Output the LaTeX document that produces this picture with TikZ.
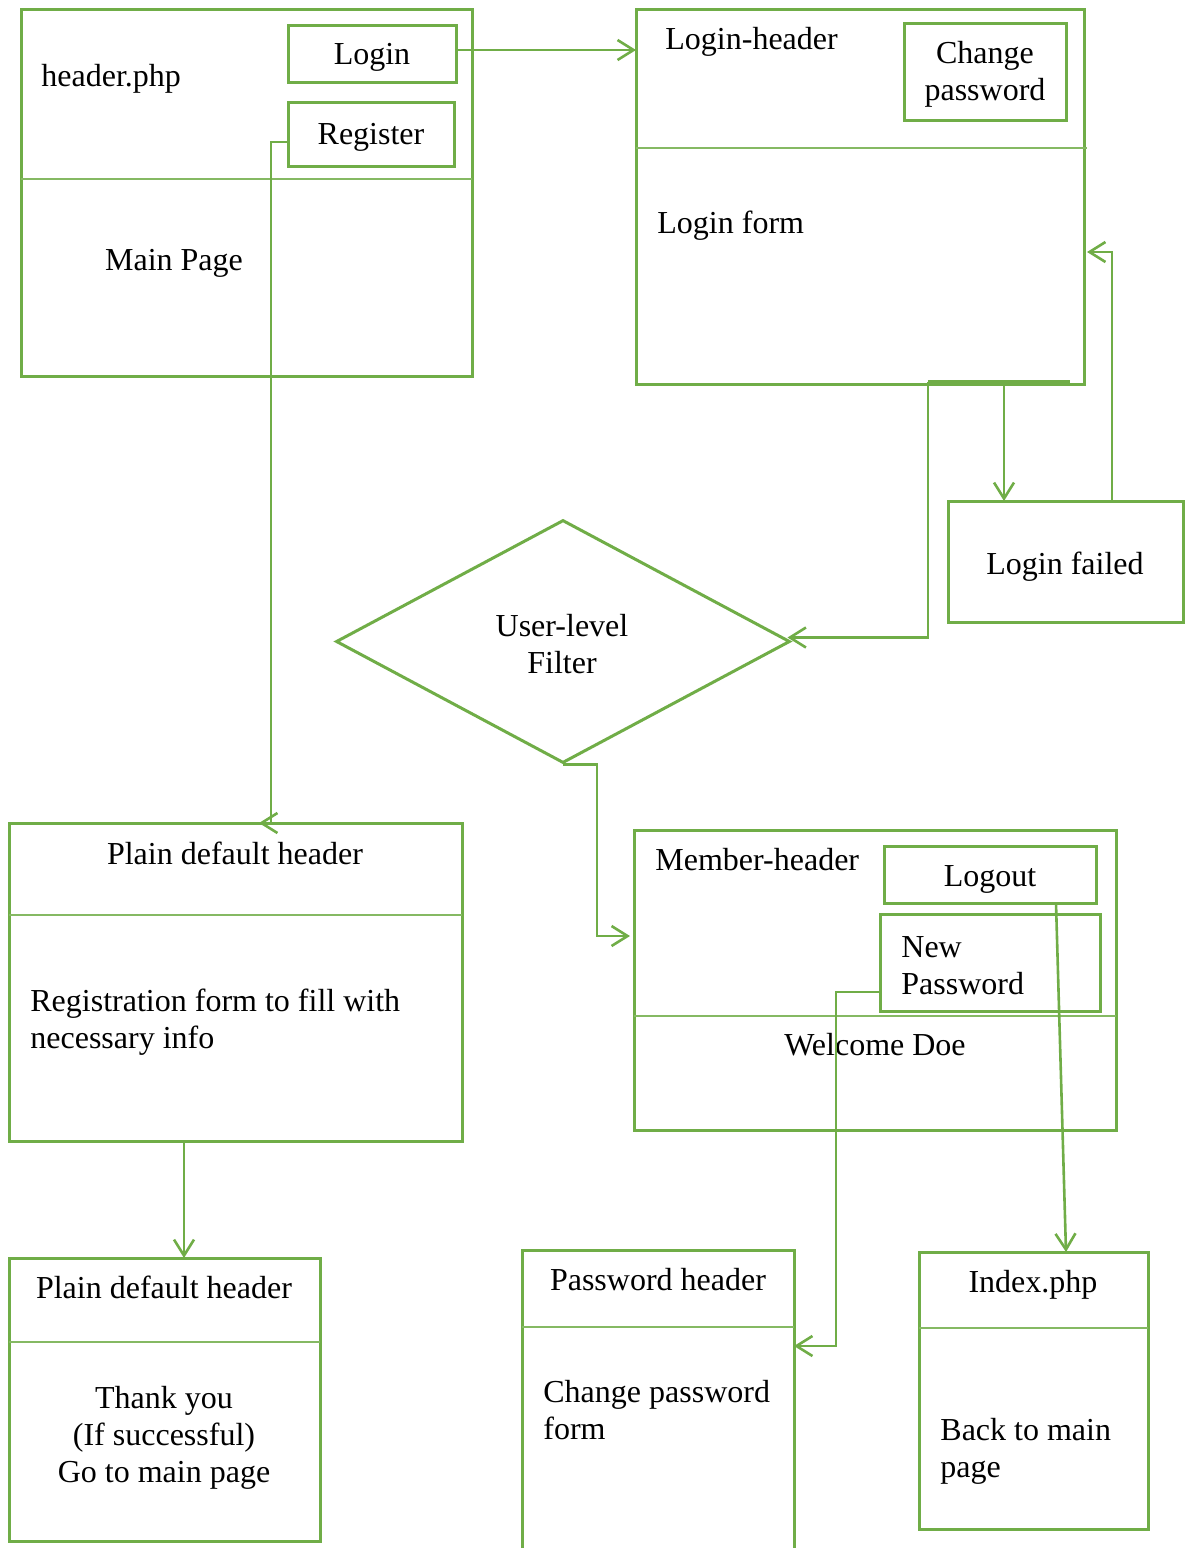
\documentclass[tikz,border=0pt]{standalone}
\usepackage{fontspec}
\setmainfont{Liberation Serif}
\usetikzlibrary{arrows.meta,positioning,shapes.geometric,calc}
\definecolor{lgreen}{HTML}{70AD47}
\tikzstyle{box}=[draw=lgreen,line width=1.5pt,inner sep=0pt,outer sep=0pt]
\tikzstyle{divider}=[draw=lgreen!85,line width=0.7pt]
\tikzstyle{post}=[draw=lgreen,line width=1.3pt,-{Straight Barb[length=8pt,width=10pt]}]
\tikzstyle{txt}=[inner sep=0pt,font=\fontsize{16}{18.5}\selectfont]

\begin{document}
\begin{tikzpicture}[x=0.5pt,y=-0.5pt]
\clip (0,0) rectangle (1187,1548);
% main page with header.php
\node (main) [box,minimum width=225.5pt,minimum height=183.5pt] at (246.5,192.5) {};
\node (login) [box,minimum width=84pt,minimum height=28.5pt] at (372,53.5) {};
\node (register) [box,minimum width=83pt,minimum height=32pt] at (371,134) {};
\draw[divider] ($(main.north west)+(0,170)$) -- ($(main.north east)+(0,170)$);
\node (hdrtxt) [txt,anchor=base west] at (41,86) {header.php};
\node (maintxt) [txt,anchor=base] at (174,270) {Main Page};
\node (logintxt) [txt,anchor=base] at (372,64) {Login};
\node (regtxt) [txt,anchor=base] at (371,144) {Register};

% login page
\node (lpage) [box,minimum width=224pt,minimum height=187.5pt] at (860,196.5) {};
\node (chpw) [box,minimum width=81pt,minimum height=48.5pt] at (985,71.5) {};
\draw[divider] ($(lpage.north west)+(0,139)$) -- ($(lpage.north east)+(3,139)$);
\node (lhdrtxt) [txt,anchor=base west] at (665,49) {Login-header};
\node (chpwtxt) [txt,align=center] at (985,74) {Change\\password};
\node (lformtxt) [txt,anchor=base west] at (657,233) {Login form};

\node (failed) [box,minimum width=117.5pt,minimum height=60.5pt] at (1065.5,561.5) {};
\node (failedtxt) [txt,anchor=base] at (1065,574) {Login failed};

% user level filter
\node (filter) [diamond,draw=lgreen,line width=1.5pt,inner sep=0pt,minimum width=227pt,minimum height=121.5pt] at (563,641.5) {};
\node (filtertxt) [txt,align=center] at (562,644) {User-level\\Filter};

% registration
\node (plain1) [box,minimum width=226.5pt,minimum height=159pt] at (235.5,982) {};
\draw[divider] ($(plain1.north west)+(0,92)$) -- ($(plain1.north east)+(0,92)$);
\node (plain1txt) [txt,anchor=base] at (235,864) {Plain default header};
\node (regform) [txt,align=left,anchor=west] at (30,1022) {Registration form to fill with\\necessary info};

% member page
\node (member) [box,minimum width=241pt,minimum height=150pt] at (875,980) {};
\node (logout) [box,minimum width=106pt,minimum height=28.5pt] at (990,874.5) {};
\node (newpw) [box,minimum width=110pt,minimum height=48.5pt] at (990,962.5) {};
\draw[divider] ($(member.north west)+(0,186)$) -- ($(member.north east)+(0,186)$);
\node (mhdrtxt) [txt,anchor=base west] at (655,870) {Member-header};
\node (logouttxt) [txt,anchor=base] at (990,886) {Logout};
\node (newpwtxt) [txt,align=left,anchor=west] at (901,966) {New\\Password};
\node (welcome) [txt,anchor=base] at (875,1055) {Welcome Doe};

% thank you page
\node (plain2) [box,minimum width=155.5pt,minimum height=141.5pt] at (164.5,1399.5) {};
\draw[divider] ($(plain2.north west)+(0,84)$) -- ($(plain2.north east)+(0,84)$);
\node (plain2txt) [txt,anchor=base] at (164,1298) {Plain default header};
\node (thanks) [txt,align=center] at (164,1438) {Thank you\\(If successful)\\Go to main page};

% password page
\node (pwbox) [box,minimum width=136pt,minimum height=175pt] at (658,1425) {};
\draw[divider] ($(pwbox.north west)+(0,77)$) -- ($(pwbox.north east)+(0,77)$);
\node (pwhdrtxt) [txt,anchor=base] at (658,1290) {Password header};
\node (pwform) [txt,align=left,anchor=west] at (543,1410) {Change password\\form};

% index page
\node (index) [box,minimum width=114.5pt,minimum height=138.5pt] at (1033.5,1390.5) {};
\draw[divider] ($(index.north west)+(0,76)$) -- ($(index.north east)+(0,76)$);
\node (indextxt) [txt,anchor=base] at (1033,1292) {Index.php};
\node (backtxt) [txt,align=left,anchor=west] at (940,1451) {Back to main\\page};

% connectors
\draw[post] ($(login.east)+(0,-3.5)$) -- ($(login.east -| lpage.west)+(0,-3.5)$);
\draw[post] ($(register.west)+(0,8)$) -- ++(-17,0) coordinate (r1) -- (r1 |- plain1.north) -- ++(-12,0);
\coordinate (bl) at ($(lpage.south west)+(292,-2)$);
\coordinate (br) at ($(lpage.south west)+(434,-2)$);
\coordinate (bm) at ($(lpage.south west)+(368,-2)$);
\draw[draw=lgreen,line width=2.2pt] (bl) -- (br);
\draw[post] (bm) -- (bm |- failed.north);
\draw[post] (bl) |- ($(filter.east)+(-4,-4)$);
\draw[post] ($(failed.north west)+(164,0)$) |- ($(lpage.east)+(3,55.5)$);
\draw[post] (filter.south) -- ++(34,0) |- ($(member.west)+(-4,-44)$);
\draw[post] ($(newpw.west)+(0,29.5)$) -- ++(-44,0) |- ($(pwbox.east)+(0,-79)$);
\draw[post] ($(logout.south)+(66,0)$) -- ($(index.north)+(32.5,0)$);
\draw[post] ($(plain1.south west)+(175,0)$) -- ($(plain2.north west)+(175,0)$);
\end{tikzpicture}
\end{document}
